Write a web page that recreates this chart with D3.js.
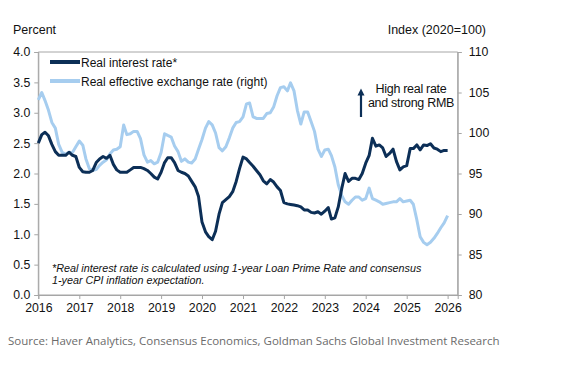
<!DOCTYPE html>
<html><head><meta charset="utf-8">
<script src="https://cdn.jsdelivr.net/npm/d3@7"></script>
<style>
html,body{margin:0;padding:0;background:#fff;}
svg{display:block;font-family:"Liberation Sans",Arial,sans-serif;}
</style></head>
<body><svg id="c" width="580" height="372"></svg>
<script>
// ---- data (monthly, Jan 2016 .. Jan 2026) ----
const startMonth = "2016-01";
const realRate = [
2.50,2.64,2.68,2.62,2.48,2.36,2.30,2.30,2.30,2.35,2.30,2.28,
2.10,2.03,2.02,2.02,2.05,2.18,2.24,2.28,2.25,2.30,2.15,2.06,
2.02,2.02,2.02,2.06,2.10,2.10,2.10,2.08,2.05,2.00,1.94,1.91,
2.02,2.18,2.26,2.26,2.18,2.05,2.02,2.00,1.96,1.87,1.78,1.62,
1.20,1.04,0.96,0.91,1.05,1.33,1.52,1.57,1.62,1.70,1.87,2.08,
2.27,2.24,2.18,2.12,2.05,1.98,1.88,1.83,1.90,1.86,1.78,1.72,
1.52,1.50,1.49,1.48,1.47,1.45,1.40,1.40,1.36,1.35,1.37,1.33,
1.38,1.44,1.25,1.27,1.45,1.75,2.00,1.87,1.92,1.92,1.90,2.00,
2.17,2.30,2.58,2.45,2.47,2.42,2.28,2.33,2.40,2.20,2.06,2.11,
2.13,2.41,2.41,2.47,2.39,2.47,2.46,2.49,2.42,2.40,2.36,2.38,
2.38];
const reer = [
104.1,105.0,104.0,102.8,101.3,100.6,98.6,97.6,97.4,97.6,97.6,98.3,
99.0,98.5,96.8,95.6,95.4,95.5,96.0,96.4,96.7,97.4,97.9,98.0,
98.3,101.0,99.8,99.9,100.2,100.2,99.3,97.3,96.4,96.6,96.2,96.4,
97.6,99.9,99.7,99.5,98.4,97.7,96.5,96.8,96.4,96.3,96.8,98.0,
99.2,100.6,101.4,101.0,100.0,98.2,97.8,98.3,99.4,100.6,101.3,101.4,
102.0,103.6,103.7,102.0,101.8,101.8,101.8,102.4,102.5,103.2,104.6,105.6,
105.7,105.2,106.2,105.2,102.8,101.1,102.6,102.6,101.4,100.2,98.0,97.1,
97.9,98.0,97.2,95.8,93.6,92.3,91.5,91.2,91.7,92.1,92.1,91.7,
91.9,93.2,91.9,91.7,91.5,91.2,91.3,91.4,91.5,91.5,91.9,91.5,
91.6,91.7,91.2,89.3,87.2,86.5,86.2,86.5,87.0,87.6,88.3,88.9,
89.8];
const yearTicks = [2016,2017,2018,2019,2020,2021,2022,2023,2024,2025,2026];
const leftTicks = [0,0.5,1,1.5,2,2.5,3,3.5,4];
const rightTicks = [80,85,90,95,100,105,110];
const seriesNames = ["Real interest rate*","Real effective exchange rate (right)"];
const leftTitle = "Percent";
const rightTitle = "Index (2020=100)";
const noteLines = ["*Real interest rate is calculated using 1-year Loan Prime Rate and consensus",
                   "1-year CPI inflation expectation."];
const annotation = ["High real rate","and strong RMB"];
const source = "Source: Haver Analytics, Consensus Economics, Goldman Sachs Global Investment Research";

// ---- layout ----
const svg = d3.select("#c");
const L = 38.3, R = 457.7, T = 52, B = 295;
const darkC = "#0c2f57", lightC = "#a6cdef", axisC = "#a6a6a6", txtC = "#111";
const parse = d3.timeParse("%Y-%m");
const d0 = parse(startMonth);
const dates = realRate.map((_, i) => d3.timeMonth.offset(d0, i));
const x = d3.scaleTime().domain([new Date(2016,0,1), new Date(2026,3,1)]).range([L, R]);
const yL = d3.scaleLinear().domain([0,4]).range([B, T]);
const yR = d3.scaleLinear().domain([80,110]).range([B, T]);

// frame
svg.append("path").attr("d", `M${L},${B}V${T}H${R}V${B}Z`).attr("fill","none").attr("stroke",axisC).attr("stroke-width",1);

// axes
const gl = svg.append("g").attr("transform",`translate(${L},0)`)
  .call(d3.axisLeft(yL).tickValues(leftTicks).tickFormat(d3.format(".1f")).tickSize(4).tickPadding(4));
const gr = svg.append("g").attr("transform",`translate(${R},0)`)
  .call(d3.axisRight(yR).tickValues(rightTicks).tickFormat(d3.format("d")).tickSize(4).tickPadding(7));
const gb = svg.append("g").attr("transform",`translate(0,${B})`)
  .call(d3.axisBottom(x).tickValues(yearTicks.map(y => new Date(y,0,1))).tickFormat(d3.timeFormat("%Y")).tickSize(4).tickPadding(4));
[gl,gr,gb].forEach(g => {
  g.select(".domain").attr("stroke",axisC);
  g.selectAll(".tick line").attr("stroke",axisC);
  g.selectAll(".tick text").attr("fill",txtC).style("font-size","12.3px").style("font-family","'Liberation Sans',Arial,sans-serif");
});

// titles
svg.append("text").attr("x",13).attr("y",34).text(leftTitle).attr("fill",txtC).style("font-size","12.5px");
svg.append("text").attr("x",486).attr("y",34).attr("text-anchor","end").text(rightTitle).attr("fill",txtC).style("font-size","12.5px");

// lines
const lineL = d3.line().x((d,i) => x(dates[i])).y(d => yL(d)).curve(d3.curveLinear);
const lineR = d3.line().x((d,i) => x(dates[i])).y(d => yR(d)).curve(d3.curveLinear);
svg.append("path").datum(reer).attr("d", lineR).attr("fill","none").attr("stroke",lightC).attr("stroke-width",3).attr("stroke-linejoin","round");
svg.append("path").datum(realRate).attr("d", lineL).attr("fill","none").attr("stroke",darkC).attr("stroke-width",3).attr("stroke-linejoin","round");

// legend
const leg = svg.append("g");
[[darkC,62,67],[lightC,81,86]].forEach((c,i) => {
  leg.append("line").attr("x1",50).attr("x2",80).attr("y1",c[1]).attr("y2",c[1]).attr("stroke",c[0]).attr("stroke-width",4);
  leg.append("text").attr("x",81).attr("y",c[2]).text(seriesNames[i]).attr("fill",txtC).style("font-size","12px");
});

// annotation
svg.append("defs").append("marker").attr("id","ah").attr("viewBox","0 0 10 10").attr("refX",5).attr("refY",5)
  .attr("markerWidth",3.2).attr("markerHeight",3.2).attr("orient","auto")
  .append("path").attr("d","M0,0L10,5L0,10Z").attr("fill",darkC);
svg.append("line").attr("x1",361).attr("x2",361).attr("y1",117).attr("y2",92).attr("stroke",darkC).attr("stroke-width",2.2).attr("marker-end","url(#ah)");
annotation.forEach((t,i) => svg.append("text").attr("x",411).attr("y",93+i*14).attr("text-anchor","middle").text(t).attr("fill",txtC).style("font-size","12.5px").style("letter-spacing","-0.3px"));

// footnote
noteLines.forEach((t,i) => svg.append("text").attr("x",52).attr("y",272+i*12).text(t).attr("fill",txtC).style("font-size","10.75px").style("font-style","italic"));

// source
svg.append("text").attr("x",8).attr("y",345).text(source).attr("fill","#6b6b6b")
  .style("font-family","'Open Sans','Noto Sans',sans-serif").style("font-size","11.5px");
</script></body></html>
